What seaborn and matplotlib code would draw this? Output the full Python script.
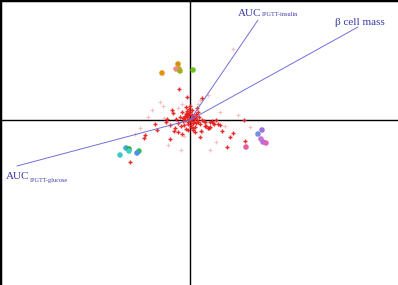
import matplotlib
matplotlib.use("Agg")
import matplotlib.pyplot as plt
import seaborn as sns
import pandas as pd

sns.set_theme(style="white")
plt.rcParams['font.family'] = ['Liberation Serif', 'DejaVu Serif']

# Loading vectors (end points, biplot units)
vec_names = ["AUC_insulin", "beta_cell_mass", "AUC_glucose"]
vec_x = [68, 168, -173]
vec_y = [100, 93, -46]

# Group mean points
grp_x = [-28, -12, -11, -14, -10, 3,
         68, 72, 71, 73, 76, 56,
         -70, -64, -61, -61, -51, -53]
grp_y = [47, 56, 51, 51, 49, 50,
         -14, -10, -19, -22, -23, -27,
         -35, -28, -29, -31, -31, -33]
grp_col = ["#e8900a", "#d4920a", "#c8a020", "#f08888", "#a0b020", "#70c020",
           "#7090e0", "#a070e0", "#d070d0", "#b070e0", "#e060c0", "#e060a0",
           "#40c8c8", "#40a8e0", "#20b040", "#40d0c0", "#30c060", "#5090e0"]

# Individual observations (dark crosses)
obs_x = [-11, -3, 12, -4, -18, -17, -8, 7, 8, -23, -35, -15, -12, 3, 10, 28, 32,
         40, 43, 54, 55, 37, -20, -33, 20, 23, 15, -45, -46, -60, -16,
         0, 2, -2, -5, -7, 4, 6, -1, 1, -3, 3, -6, 8, 10, -9, 12, -10, 14,
         5, -4, 2, 0, -2, 6, 9, -12, 15, 18, -14, 5, -8, 11,
         -1, 1, -3, 3, -5, 5, -2, 2, -4, 4, 0, -6, 7, -7, 1, -1, 3, -3, 6, -2,
         20, 24, 26, 16, 19, 22, 30, -20, -24]
obs_y = [31, 23, 22, 13, 10, 7, 8, 12, 8, 1, -4, -8, -12, -10, -17, -4, -11,
         -17, -13, 0, -21, -27, -19, -10, -7, -3, -2, -15, -18, -42, -11,
         0, 2, -2, 4, -1, 1, -3, 6, -5, 9, 4, 2, -2, -4, -6, 0, 3, -1,
         -7, -9, 10, 14, 5, 6, 3, -3, -6, -8, 1, -12, -14, -11,
         1, -1, 3, -3, 0, 2, -4, 5, 6, -2, 8, -5, 0, 2, -7, 11, -8, 7, 4, -10,
         -2, -4, 0, -6, -8, -1, -5, -5, -2]

# Faint observations
faint_x = [-30, -38, -26, -42, -50, -55, -22, 30, 35, 26, -9, -27, 18, 48, 60, 20, 43,
           -8, 8, -12, 12, -6, 10]
faint_y = [18, 10, 2, 3, -8, -14, -25, 8, -6, -22, -30, 14, 25, 5, -7, -30, 71,
           16, 16, 12, -12, -16, 20]

df_obs = pd.DataFrame({"x": obs_x, "y": obs_y})
df_faint = pd.DataFrame({"x": faint_x, "y": faint_y})
df_grp = pd.DataFrame({"x": grp_x, "y": grp_y, "c": grp_col})

fig = plt.figure(figsize=(3.98, 2.85), dpi=100)
ax = fig.add_axes([0, 0, 1, 1])
ax.set_xlim(-190, 208)
ax.set_ylim(-165, 120)

ax.axhline(0, color="black", lw=1.0, zorder=1)
ax.axvline(0, color="black", lw=1.0, zorder=1)

sns.scatterplot(data=df_faint, x="x", y="y", marker="+", s=9, color="#f08080",
                alpha=0.5, linewidth=0.8, ax=ax, legend=False, zorder=2)
sns.scatterplot(data=df_obs, x="x", y="y", marker="+", s=9, color="#e82020",
                alpha=0.95, linewidth=1.0, ax=ax, legend=False, zorder=3)
sns.scatterplot(data=df_grp, x="x", y="y", hue="c", palette=dict(zip(grp_col, grp_col)),
                marker="o", s=16, edgecolor="none", ax=ax, legend=False, zorder=4)

for vx, vy in zip(vec_x, vec_y):
    ax.plot([0, vx], [0, vy], color="#7070d8", lw=0.7, zorder=5)

tc = "#3a3aa8"
ax.text(48, 104, "AUC", fontsize=8, color=tc, va="baseline", ha="left")
ax.text(72, 104, "IPGTT-insulin", fontsize=4.5, color=tc, va="baseline", ha="left")
ax.text(145, 95, "\u03b2 cell mass", fontsize=8, color=tc, va="baseline", ha="left")
ax.text(-184, -59, "AUC", fontsize=8, color=tc, va="baseline", ha="left")
ax.text(-160, -62, "IPGTT-glucose", fontsize=4.5, color=tc, va="baseline", ha="left")

ax.set_xticks([])
ax.set_yticks([])
ax.set_xlabel("")
ax.set_ylabel("")
for side in ["right", "bottom"]:
    ax.spines[side].set_visible(False)
for side in ["left", "top"]:
    ax.spines[side].set_visible(True)
    ax.spines[side].set_color("black")
    ax.spines[side].set_linewidth(2.5)

fig.savefig("out.png", dpi=100, facecolor="white")
